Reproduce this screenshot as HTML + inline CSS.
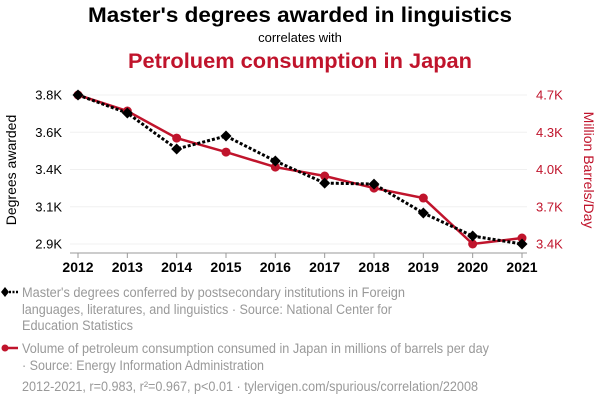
<!DOCTYPE html>
<html><head><meta charset="utf-8"><style>
body{margin:0;background:#fff;width:600px;height:408px;overflow:hidden;font-family:"Liberation Sans",Arial,sans-serif}
svg text{font-family:"Liberation Sans",Arial,sans-serif}
</style></head><body>
<svg id="chart" width="600" height="408" xmlns="http://www.w3.org/2000/svg">
<text x="88" y="22" textLength="424" lengthAdjust="spacingAndGlyphs" font-size="21" font-weight="bold" fill="#000">Master's degrees awarded in linguistics</text>
<text x="300" y="42" text-anchor="middle" font-size="13" fill="#000">correlates with</text>
<text x="128" y="68" textLength="344" lengthAdjust="spacingAndGlyphs" font-size="21" font-weight="bold" fill="#c0142c">Petroluem consumption in Japan</text>
<text transform="translate(16,170) rotate(-90)" text-anchor="middle" font-size="14" fill="#000">Degrees awarded</text>
<text transform="translate(584,170) rotate(90)" text-anchor="middle" font-size="14" fill="#c0142c">Million Barrels/Day</text>
<g id="grid"></g><g id="axes"></g><g id="series"></g>
<g>
<line x1="2" y1="292" x2="18" y2="292" stroke="#000" stroke-width="2.5" stroke-dasharray="2,1.5"/>
<path d="M5 287 L9 292 L5 297 L1 292Z" fill="#000"/>
<text font-size="13.5" fill="#999" lengthAdjust="spacingAndGlyphs"><tspan x="22" y="297" textLength="383" lengthAdjust="spacingAndGlyphs">Master's degrees conferred by postsecondary institutions in Foreign</tspan><tspan x="22" y="314" textLength="370" lengthAdjust="spacingAndGlyphs">languages, literatures, and linguistics · Source: National Center for</tspan><tspan x="22" y="330" textLength="111" lengthAdjust="spacingAndGlyphs">Education Statistics</tspan></text>
<line x1="2" y1="348" x2="18" y2="348" stroke="#c0142c" stroke-width="2.5"/>
<circle cx="5" cy="348" r="3.5" fill="#c0142c"/>
<text font-size="13.5" fill="#999"><tspan x="22" y="353" textLength="467" lengthAdjust="spacingAndGlyphs">Volume of petroleum consumption consumed in Japan in millions of barrels per day</tspan><tspan x="22" y="370" textLength="242" lengthAdjust="spacingAndGlyphs">· Source: Energy Information Administration</tspan></text>
<text x="22" y="391" textLength="456" lengthAdjust="spacingAndGlyphs" font-size="13.5" fill="#999">2012-2021, r=0.983, r²=0.967, p&lt;0.01 · tylervigen.com/spurious/correlation/22008</text>
</g>
</svg>
<script>
const years=[2012,2013,2014,2015,2016,2017,2018,2019,2020,2021];
const degrees=[3800,3691,3474,3552,3401,3268,3262,3087,2948,2900];
const petroleum=[4700,4560,4324,4202,4071,3993,3888,3801,3400,3452];
const leftTicks=[2900,3125,3350,3575,3800];
const leftLabels=["2.9K","3.1K","3.4K","3.6K","3.8K"];
const rightTicks=[3400,3725,4050,4375,4700];
const rightLabels=["3.4K","3.7K","4.0K","4.3K","4.7K"];
const NS="http://www.w3.org/2000/svg";
const x0=78,x1=522,yT=95,yB=244;
const xs=i=>x0+(x1-x0)*i/(years.length-1);
const yL=v=>yB-(v-2900)/(3800-2900)*(yB-yT);
const yR=v=>yB-(v-3400)/(4700-3400)*(yB-yT);
function mk(tag,attrs,parent){const e=document.createElementNS(NS,tag);for(const k in attrs)e.setAttribute(k,attrs[k]);parent.appendChild(e);return e;}
const grid=document.getElementById('grid'),axes=document.getElementById('axes'),ser=document.getElementById('series');
leftTicks.forEach((v,i)=>{
  const g=mk('line',{x1:70,x2:527,y1:yL(v),y2:yL(v),stroke:'#f0f0f0','stroke-width':1},grid);
  
  
  const t=mk('text',{x:62,y:yL(v)+4.5,'text-anchor':'end','font-size':13,fill:'#000'},axes);
  t.textContent=leftLabels[i];
  
  
});
rightTicks.forEach((v,i)=>{
  const t=mk('text',{x:536,y:yR(v)+4.5,'font-size':13,fill:'#c0142c'},axes);
  t.textContent=rightLabels[i];
  
  
});
const ax=mk('line',{x1:70,x2:527,y1:253,y2:253,stroke:'#999','stroke-width':1},axes);


years.forEach((y,i)=>{
  mk('line',{x1:xs(i),x2:xs(i),y1:253,y2:258,stroke:'#999'},axes);
  const t=mk('text',{x:xs(i),y:272,'text-anchor':'middle','font-size':14,'font-weight':'bold',fill:'#000'},axes);
  t.textContent=y;
  
  
});
const rp=mk('polyline',{points:petroleum.map((v,i)=>xs(i)+','+yR(v)).join(' '),fill:'none',stroke:'#c0142c','stroke-width':2.5},ser);


const bp=mk('polyline',{points:degrees.map((v,i)=>xs(i)+','+yL(v)).join(' '),fill:'none',stroke:'#000','stroke-width':3,'stroke-dasharray':'3,2'},ser);


petroleum.forEach((v,i)=>{
  const c=mk('circle',{cx:xs(i),cy:yR(v),r:4.5,fill:'#c0142c'},ser);
  
  
});
degrees.forEach((v,i)=>{
  const x=xs(i),y=yL(v);
  const p=mk('path',{d:`M${x} ${y-5.5}L${x+5.5} ${y}L${x} ${y+5.5}L${x-5.5} ${y}Z`,fill:'#000'},ser);
  
  
});
</script>
</body></html>
